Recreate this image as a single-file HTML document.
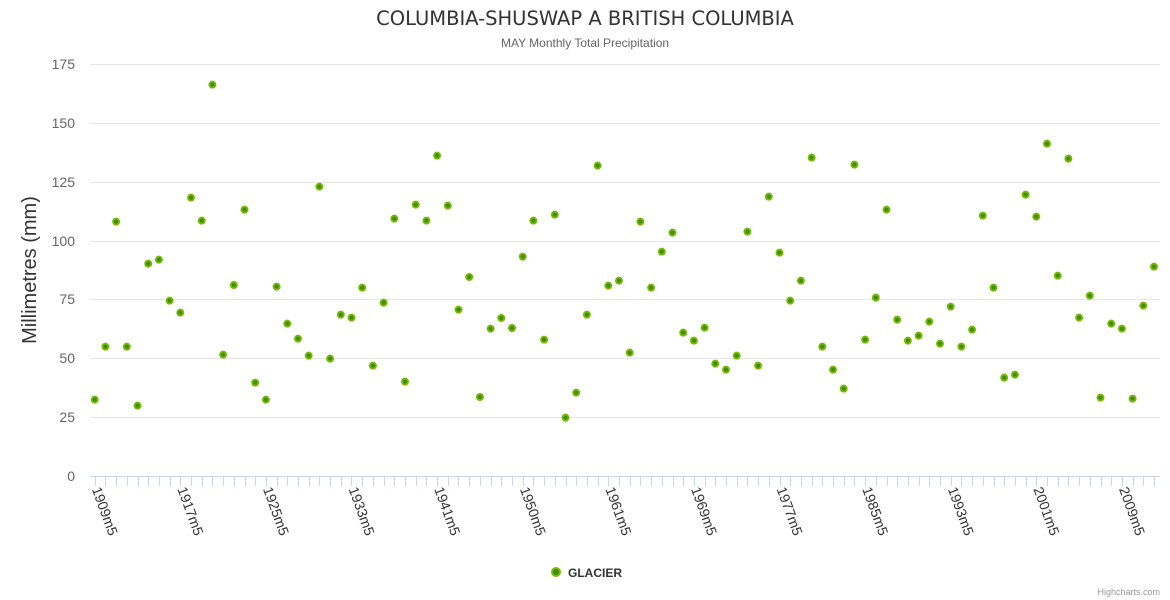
<!DOCTYPE html>
<html><head><meta charset="utf-8"><style>
html,body{margin:0;padding:0;background:#fff;}
svg{display:block;font-family:"Liberation Sans",sans-serif;}
</style></head><body>
<svg width="1170" height="600" viewBox="0 0 1170 600" xmlns="http://www.w3.org/2000/svg">
<text x="585" y="25" text-anchor="middle" font-size="19.5" fill="#333" font-family="DejaVu Sans, sans-serif">COLUMBIA-SHUSWAP A BRITISH COLUMBIA</text>
<text x="585" y="47" text-anchor="middle" font-size="12" fill="#666">MAY Monthly Total Precipitation</text>
<g stroke="#e6e6e6" stroke-width="1">
<line x1="90" x2="1160" y1="64.5" y2="64.5"/><line x1="90" x2="1160" y1="123.5" y2="123.5"/><line x1="90" x2="1160" y1="182.5" y2="182.5"/><line x1="90" x2="1160" y1="241.5" y2="241.5"/><line x1="90" x2="1160" y1="299.5" y2="299.5"/><line x1="90" x2="1160" y1="358.5" y2="358.5"/><line x1="90" x2="1160" y1="417.5" y2="417.5"/>
</g>
<line x1="90" x2="1160" y1="476.5" y2="476.5" stroke="#ccd6eb"/>
<g font-size="14" fill="#666" text-anchor="end">
<text x="75" y="69">175</text><text x="75" y="128">150</text><text x="75" y="187">125</text><text x="75" y="246">100</text><text x="75" y="304">75</text><text x="75" y="363">50</text><text x="75" y="422">25</text><text x="75" y="481">0</text>
</g>
<text transform="translate(36,270) rotate(-90)" text-anchor="middle" font-size="20" fill="#333">Millimetres (mm)</text>
<g id="ticks" stroke="#ccd6eb"></g>
<g id="labels" font-size="14" fill="#333"></g>
<g id="pts"></g>
<circle cx="556" cy="572" r="4" fill="#3a8f00" stroke="#77b800" stroke-width="2"/>
<text x="568" y="577" font-size="12" font-weight="bold" fill="#333">GLACIER</text>
<text x="1160" y="595" text-anchor="end" font-size="9" fill="#999">Highcharts.com</text>
</svg>
<script>
var ys=[1019,860,485,860,1037,611,599,722,758,413,482,74,884,675,449,968,1019,680,791,836,887,380,896,764,773,683,917,728,476,965,434,482,287,437,749,
651,1011,806,774,804,590,482,839,464,1073,998,764,317,677,662,878,485,683,575,518,818,842,803,911,929,887,515,917,410,578,722,662,293,860,
929,986,314,839,713,449,779,842,827,785,851,740,860,809,467,683,953,944,404,470,251,647,296,773,707,1013,791,806,1016,737,620];
var ns="http://www.w3.org/2000/svg";
var P=document.getElementById('pts'),T=document.getElementById('ticks'),L=document.getElementById('labels');
var labs={0:"1909m5",8:"1917m5",16:"1925m5",24:"1933m5",32:"1941m5",40:"1950m5",48:"1961m5",56:"1969m5",64:"1977m5",72:"1985m5",80:"1993m5",88:"2001m5",96:"2009m5"};
for(var i=0;i<100;i++){
 var x=94.7+10.7*i,y=60+ys[i]/3;
 var c=document.createElementNS(ns,'circle');
 c.setAttribute('cx',x);c.setAttribute('cy',y);c.setAttribute('r',3);
 c.setAttribute('fill','#3a8f00');c.setAttribute('stroke','#77b800');c.setAttribute('stroke-width','2');
 P.appendChild(c);
 var l=document.createElementNS(ns,'line');
 l.setAttribute('x1',Math.round(x)+0.5);l.setAttribute('x2',Math.round(x)+0.5);l.setAttribute('y1',476);l.setAttribute('y2',486);
 T.appendChild(l);
 if(labs[i]){var t=document.createElementNS(ns,'text');
 t.setAttribute('transform','translate('+(x-3)+',489) rotate(70)');t.textContent=labs[i];L.appendChild(t);}
}
</script>
</body></html>
